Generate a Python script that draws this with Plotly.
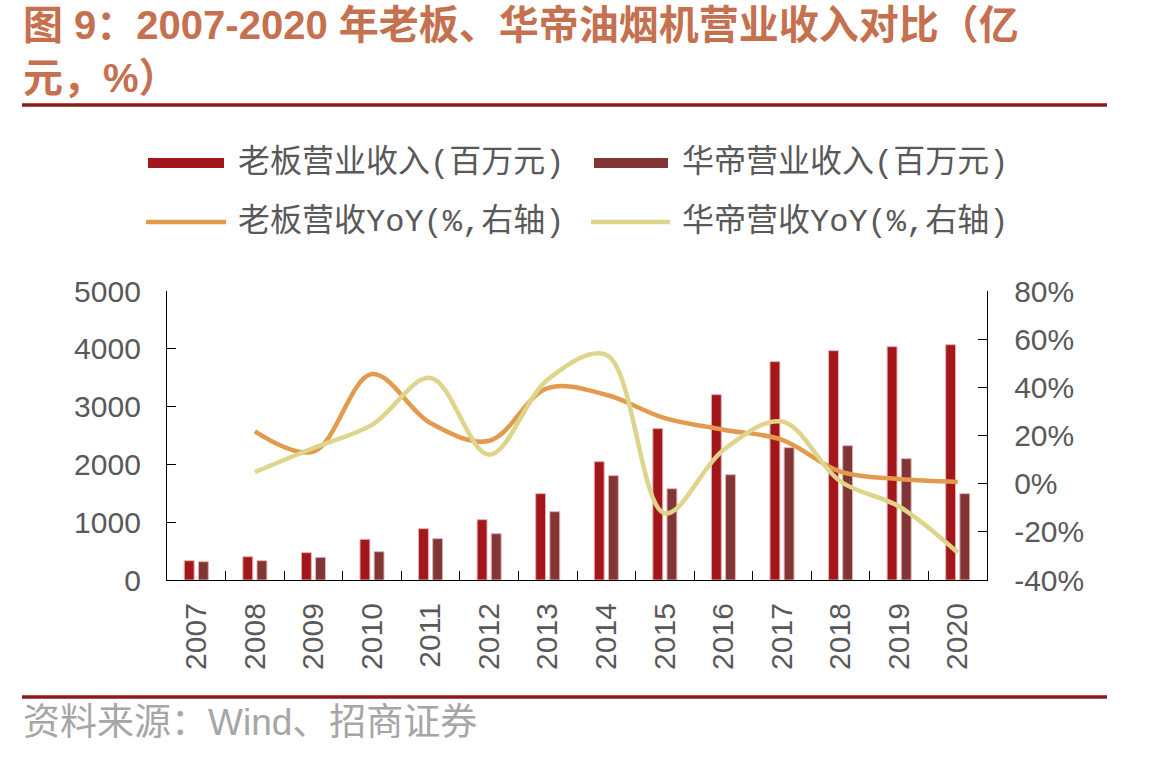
import plotly.graph_objects as go

years = [str(y) for y in range(2007, 2021)]
robam_rev = [334, 403, 473, 704, 888, 1044, 1494, 2047, 2619, 3207, 3778, 3968, 4037, 4071]
vatti_rev = [317, 334, 392, 490, 715, 801, 1182, 1805, 1580, 1822, 2290, 2324, 2099, 1494]
yoy_years = [str(y) for y in range(2008, 2021)]
robam_yoy = [21.7, 13.3, 45.5, 25.1, 17.8, 39.7, 36.9, 27.2, 22.4, 18.2, 5.0, 1.9, 0.7]
vatti_yoy = [4.8, 14.8, 24.4, 43.9, 12.0, 43.2, 53.5, -12.3, 14.0, 25.8, 0.9, -9.5, -28.6]
left_ticks = [0, 1000, 2000, 3000, 4000, 5000]
right_ticks = [-40, -20, 0, 20, 40, 60, 80]
right_ticktext = ["-40%", "-20%", "0%", "20%", "40%", "60%", "80%"]

names = ["老板营业收入(百万元)", "华帝营业收入(百万元)", "老板营收YoY(%,右轴)", "华帝营收YoY(%,右轴)"]
title1 = "图 9：2007-2020 年老板、华帝油烟机营业收入对比（亿"
title2 = "元，%）"
source = "资料来源：Wind、招商证券"

C_ROBAM = "#A3171A"
C_VATTI = "#823535"
C_ROBAM_L = "#E39A4E"
C_VATTI_L = "#DFD48B"

W, H = 1156, 757
L, R, T, B = 167, 987, 291, 580


def px_x(p):
    return (p - L) / (R - L)


def px_y(p):
    return (B - p) / (B - T)


fig = go.Figure()
fig.add_trace(go.Bar(x=years, y=robam_rev, name=names[0], marker_color=C_ROBAM,
                     marker_line=dict(color="#E2B3B3", width=1), showlegend=False))
fig.add_trace(go.Bar(x=years, y=vatti_rev, name=names[1], marker_color=C_VATTI,
                     marker_line=dict(color="#E2B3B3", width=1), showlegend=False))
fig.add_trace(go.Scatter(x=yoy_years, y=robam_yoy, name=names[2], yaxis="y2", mode="lines",
                         line=dict(color=C_ROBAM_L, width=4.5, shape="spline", smoothing=1.0),
                         showlegend=False))
fig.add_trace(go.Scatter(x=yoy_years, y=vatti_yoy, name=names[3], yaxis="y2", mode="lines",
                         line=dict(color=C_VATTI_L, width=4.5, shape="spline", smoothing=1.0),
                         showlegend=False))

tickfont = dict(family="Liberation Sans, Arial, sans-serif", size=30, color="#595959")

fig.update_layout(
    width=W, height=H,
    margin=dict(l=L, r=W - R, t=T, b=H - B, pad=0),
    paper_bgcolor="white", plot_bgcolor="white",
    barmode="group", bargap=0.517, bargroupgap=0.3,
    xaxis=dict(type="category", categoryorder="array", categoryarray=years,
               range=[-0.5, 13.5], showline=True, linecolor="black", linewidth=1.3,
               ticks="inside", ticklen=9, tickcolor="black", tickwidth=1.3,
               tickson="boundaries", tickangle=-90, tickfont=tickfont,
               ticklabelstandoff=10, showgrid=False, zeroline=False),
    yaxis=dict(range=[0, 5000], tickvals=left_ticks, showline=True, linecolor="black",
               linewidth=1.3, ticks="inside", ticklen=9, tickcolor="black", tickwidth=1.3,
               tickfont=tickfont, ticklabelstandoff=19, showgrid=False, zeroline=False),
    yaxis2=dict(range=[-40, 80], tickvals=right_ticks, ticktext=right_ticktext,
                overlaying="y", side="right", showline=True, linecolor="black",
                linewidth=1.3, ticks="inside", ticklen=9, tickcolor="black", tickwidth=1.3,
                tickfont=tickfont, ticklabelstandoff=20, showgrid=False, zeroline=False),
)

shapes = []
annotations = []

# title
title_font = dict(family="Liberation Sans, Noto Sans CJK SC, sans-serif", size=40,
                  color="#C5704E", weight="bold")
annotations.append(dict(text="<b>" + title1 + "</b>", x=px_x(21), y=px_y(25), xref="paper",
                        yref="paper", xanchor="left", yanchor="middle", showarrow=False,
                        font=title_font))
annotations.append(dict(text="<b>" + title2 + "</b>", x=px_x(21), y=px_y(78), xref="paper",
                        yref="paper", xanchor="left", yanchor="middle", showarrow=False,
                        font=title_font))
# rules
for yy in (105, 697):
    shapes.append(dict(type="line", xref="paper", yref="paper", x0=px_x(22), x1=px_x(1107),
                       y0=px_y(yy), y1=px_y(yy), line=dict(color="#8E1A1A", width=3.5)))

# legend
leg_font = dict(family="Liberation Mono, Noto Sans CJK SC, monospace", size=32, color="#595959")
leg_items = [
    (148, 224, 163, C_ROBAM, 10, 236, names[0]),
    (594, 668, 163, C_VATTI, 10, 680, names[1]),
    (146, 226, 222, C_ROBAM_L, 4.5, 236, names[2]),
    (591, 670, 222, C_VATTI_L, 4.5, 680, names[3]),
]
for x0, x1, yy, col, lw, tx, txt in leg_items:
    shapes.append(dict(type="line", xref="paper", yref="paper", x0=px_x(x0), x1=px_x(x1),
                       y0=px_y(yy), y1=px_y(yy), line=dict(color=col, width=lw)))
    annotations.append(dict(text=txt, x=px_x(tx), y=px_y(yy), xref="paper", yref="paper",
                            xanchor="left", yanchor="middle", showarrow=False, font=leg_font))

# source
annotations.append(dict(text=source, x=px_x(21), y=px_y(722), xref="paper", yref="paper",
                        xanchor="left", yanchor="middle", showarrow=False,
                        font=dict(family="Liberation Sans, Noto Sans CJK SC, sans-serif",
                                  size=37, color="#A6A6A6")))

fig.update_layout(shapes=shapes, annotations=annotations)
fig.write_html("out.html")
